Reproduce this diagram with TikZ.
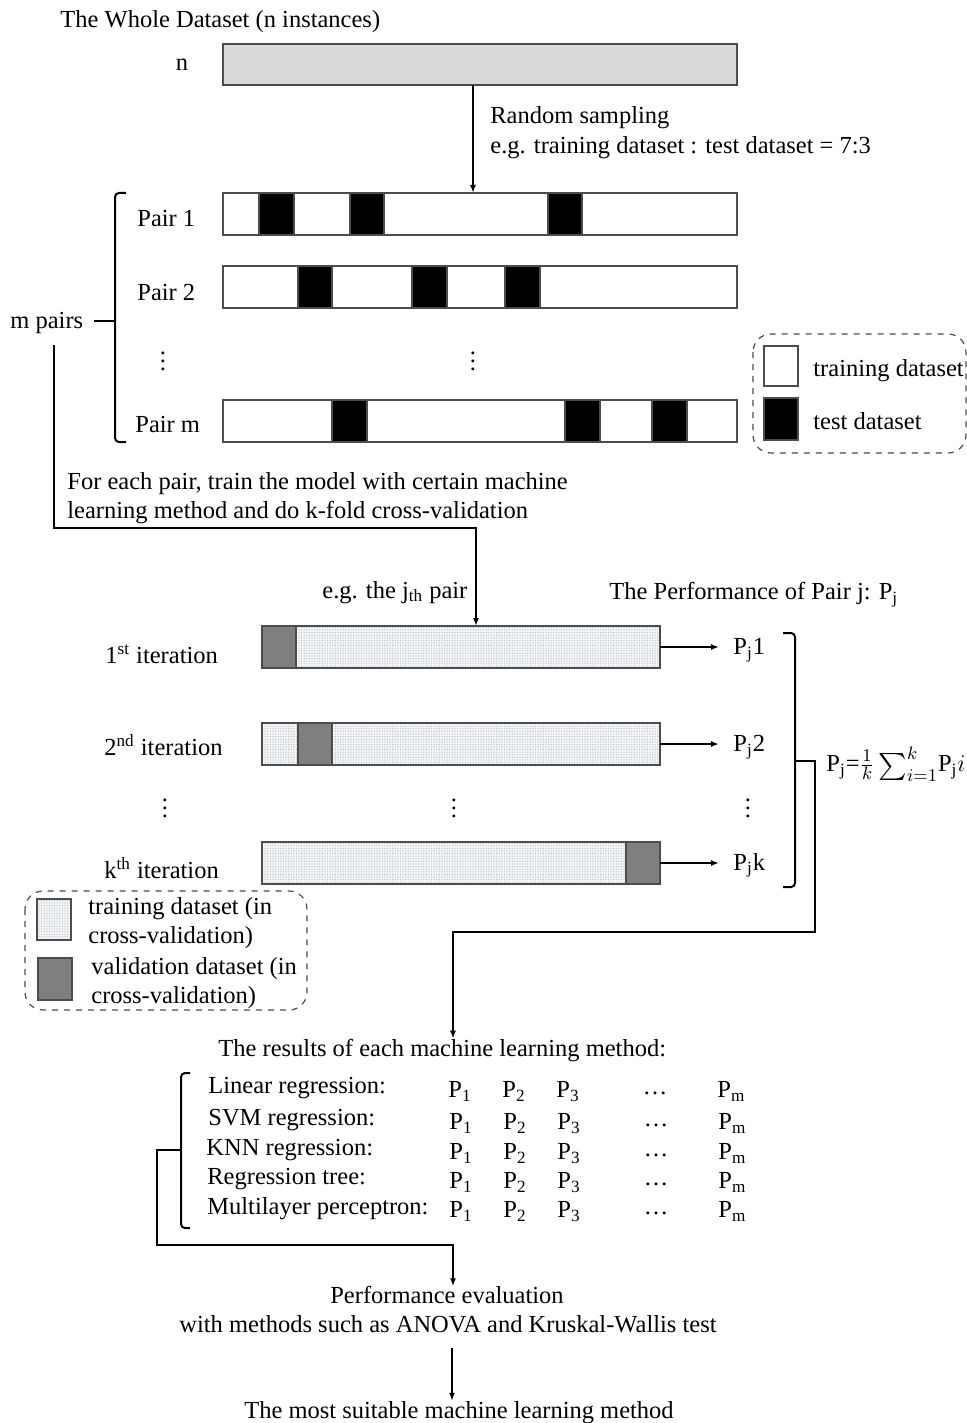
\documentclass[tikz,border=0pt]{standalone}
\usepackage{fontspec}
\setmainfont{Liberation Serif}
\usetikzlibrary{arrows.meta,patterns.meta,fit,calc}
\definecolor{wholegray}{HTML}{D9D9D9}
\definecolor{valgray}{HTML}{7F7F7F}
\definecolor{dotbg}{HTML}{F3F5F7}
\definecolor{dotfg}{HTML}{A8B4BE}
\newcommand{\bigsum}{\mathop{\raisebox{-0.15em}{\scalebox{1.35}{$\sum$}}}\nolimits}
\begin{document}
\begin{tikzpicture}[x=0.5pt,y=-0.5pt,
  txt/.style={inner sep=0pt, yshift=-1.2pt, font=\fontsize{12.25}{14}\selectfont},
  bar/.style={draw=black!70, line width=0.6pt, inner sep=0pt, outer sep=0pt},
  testblk/.style={fill=black, draw=black!70, line width=0.6pt},
  valblk/.style={fill=valgray, draw=black!70, line width=0.6pt},
  trainpat/.style={preaction={fill=dotbg}, pattern={Dots[distance=1.3pt,radius=0.28pt]}, pattern color=dotfg},
  conn/.style={line width=1pt},
  arr/.style={line width=1pt, -{Latex[length=4pt,width=3pt]}},
  brk/.style={line width=1pt, rounded corners=2pt},
  legendbox/.style={draw=black!70, dashed, line width=0.6pt, rounded corners=9pt}
]
\useasboundingbox (0,0) rectangle (967,1423);

% ---------- whole dataset ----------
\node[txt, anchor=west] (title) at (60,19) {The Whole Dataset (n instances)};
\node[txt] (nlab) at (182,62) {n};
\node[bar, fill=wholegray, fit={(223,44)(737,85)}] (whole) {};

\coordinate (sampTop) at (473,85);
\coordinate (sampBot) at (473,193);
\draw[arr] (sampTop) -- (sampBot);
\node[txt, anchor=west] (rs1) at (490,115) {Random sampling};
\node[txt, anchor=west] (rs2) at (490,145) {e.g. training dataset : test dataset = 7:3};

% ---------- m pairs ----------
\node[bar, fill=white, fit={(223,193)(737,235)}] (pair1) {};
\node[bar, fill=white, fit={(223,266)(737,308)}] (pair2) {};
\node[bar, fill=white, fit={(223,400)(737,442)}] (pairm) {};
\foreach \a/\b in {259/294, 350/384, 548/582} \draw[testblk] (\a,193) rectangle (\b,235);
\foreach \a/\b in {298/332, 412/447, 505/540} \draw[testblk] (\a,266) rectangle (\b,308);
\foreach \a/\b in {332/367, 565/600, 652/687} \draw[testblk] (\a,400) rectangle (\b,442);

\node[txt, anchor=west] (p1lab) at (137,216) {Pair 1};
\node[txt, anchor=west] (p2lab) at (137,290) {Pair 2};
\node[txt, anchor=west] (pmlab) at (135,422) {Pair m};
\node[txt] (vd1) at (163,353) {\vdots};
\node[txt] (vd2) at (473,353) {\vdots};

\draw[brk] (126,193) -- (115,193) -- (115,442) -- (126,442);
\node[txt, anchor=west] (mpairs) at (10,321) {m pairs};
\draw[conn] (115,321) -- (94,321);

% legend: training / test
\draw[legendbox] (753,334) rectangle (966,453);
\draw[fill=white, draw=black!70, line width=0.6pt] (764,346) rectangle (798,386);
\draw[testblk] (764,398) rectangle (798,440);
\node[txt, anchor=west] (lg1) at (813,368) {training dataset};
\node[txt, anchor=west] (lg2) at (813,419) {test dataset};

% ---------- cross-validation ----------
\node[txt, anchor=west] (cv1) at (67,481) {For each pair, train the model with certain machine};
\node[txt, anchor=west] (cv2) at (67,510) {learning method and do k-fold cross-validation};

\node[bar, trainpat, fit={(262,626)(660,668)}] (it1) {};
\node[bar, trainpat, fit={(262,723)(660,765)}] (it2) {};
\node[bar, trainpat, fit={(262,842)(660,884)}] (itk) {};
\draw[valblk] (262,626) rectangle (296,668);
\draw[valblk] (298,723) rectangle (332,765);
\draw[valblk] (626,842) rectangle (660,884);

\coordinate (mpStart) at (54,345);
\coordinate (mpCorner) at (54,528);
\draw[arr] (mpStart) -- (mpCorner) -- (mpCorner -| 476,0) -- (it1.north -| 476,0);

\node[txt, anchor=west] (jth) at (322,590) {e.g. the j\textsubscript{th} pair};
\node[txt, anchor=west] (perf) at (609,592) {The Performance of Pair j: P\textsubscript{j}};

\node[txt, anchor=west] (l1) at (105,652) {1\textsuperscript{st} iteration};
\node[txt, anchor=west] (l2) at (104,743) {2\textsuperscript{nd} iteration};
\node[txt, anchor=west] (lk) at (104,866) {k\textsuperscript{th} iteration};
\node[txt] (vd3) at (165,800) {\vdots};
\node[txt] (vd4) at (454,800) {\vdots};
\node[txt] (vd5) at (748,800) {\vdots};

\node[txt, anchor=west] (pj1) at (733,648) {P\textsubscript{j}1};
\node[txt, anchor=west] (pj2) at (733,745) {P\textsubscript{j}2};
\node[txt, anchor=west] (pjk) at (733,863) {P\textsubscript{j}k};
\draw[arr, shorten >=7pt] (it1.east) -- (it1.east -| pj1.west);
\draw[arr, shorten >=7pt] (it2.east) -- (it2.east -| pj2.west);
\draw[arr, shorten >=7pt] (itk.east) -- (itk.east -| pjk.west);

\draw[brk] (783,633) -- (795,633) -- (795,887) -- (783,887);
\node[txt, anchor=west] (formula) at (826,762)
  {P\textsubscript{j}=$\frac{1}{k}\bigsum_{i=1}^{k}$P\textsubscript{j}$i$};

% legend: cross-validation
\draw[legendbox] (25,891) rectangle (307,1010);
\draw[trainpat, draw=black!70, line width=0.6pt] (37,899) rectangle (71,940);
\draw[valblk] (38,958) rectangle (72,1000);
\node[txt, anchor=west] (lg3) at (88,906) {training dataset (in};
\node[txt, anchor=west] (lg4) at (88,935) {cross-validation)};
\node[txt, anchor=west] (lg5) at (91,966) {validation dataset (in};
\node[txt, anchor=west] (lg6) at (91,995) {cross-validation)};

% ---------- results ----------
\node[txt, anchor=west] (res) at (218,1048) {The results of each machine learning method:};
\coordinate (pjTick) at (795,761);
\draw[arr] (pjTick) -- (815,761) -- (815,932) -- (453,932) -- (res.north -| 453,0);

\foreach \y/\lx/\name/\px/\lab in {
  1086/208/r1/448/{Linear regression:},
  1118/208/r2/449/{SVM regression:},
  1148/206/r3/449/{KNN regression:},
  1177/207/r4/449/{Regression tree:},
  1206/207/r5/449/{Multilayer perceptron:}} {
  \node[txt, anchor=west] (\name) at (\lx,\y) {\lab};
  \node[txt, anchor=west] (\name a) at (\px,\y+3) {P\textsubscript{1}};
  \node[txt, anchor=west] (\name b) at (\px+54,\y+3) {P\textsubscript{2}};
  \node[txt, anchor=west] (\name c) at (\px+108,\y+3) {P\textsubscript{3}};
  \node[txt] (\name d) at (\px+207,\y+5) {\ldots};
  \node[txt, anchor=west] (\name e) at (\px+269,\y+3) {P\textsubscript{m}};
}

\draw[brk] (190,1073) -- (181,1073) -- (181,1228) -- (190,1228);

\node[txt] (pe1) at (447,1293) {Performance evaluation};
\node[txt] (pe2) at (448,1322) {with methods such as ANOVA and Kruskal-Wallis test};
\draw[arr] (181,1150) -- (157,1150) -- (157,1245) -- (453,1245) -- (pe1.north -| 453,0);

\node[txt] (best) at (459,1410) {The most suitable machine learning method};
\coordinate (bestTop) at (452,1348);
\draw[arr] (bestTop) -- (best.north -| 452,0);
\end{tikzpicture}
\end{document}
